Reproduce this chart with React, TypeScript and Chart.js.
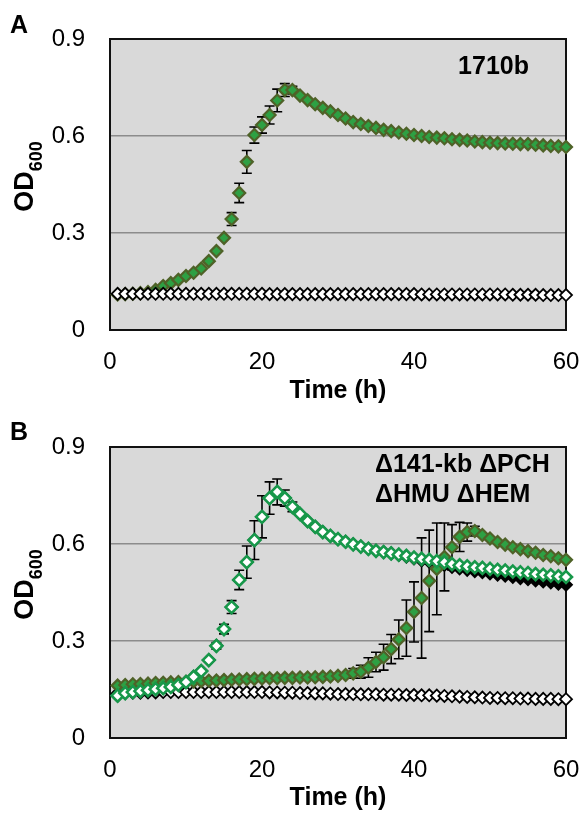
import React, { useEffect, useRef } from 'react';
import { Chart, registerables } from 'chart.js';

Chart.register(...registerables);

const FONT = '"Liberation Sans", Arial, Helvetica, sans-serif';

// ---------- data ----------
const timeHours = [
  1, 2, 3, 4, 5, 6, 7, 8, 9, 10,
  11, 12, 13, 14, 15, 16, 17, 18, 19, 20,
  21, 22, 23, 24, 25, 26, 27, 28, 29, 30,
  31, 32, 33, 34, 35, 36, 37, 38, 39, 40,
  41, 42, 43, 44, 45, 46, 47, 48, 49, 50,
  51, 52, 53, 54, 55, 56, 57, 58, 59, 60,
];

const xTickValues = [0, 20, 40, 60];
const yTickValues = [0, 0.3, 0.6, 0.9];
const yTickLabels = ['0', '0.3', '0.6', '0.9'];

// Panel A: strain 1710b
const a1710bOD = [
  0.110, 0.111, 0.112, 0.114, 0.117, 0.124, 0.136, 0.145, 0.155, 0.167,
  0.177, 0.190, 0.213, 0.244, 0.285, 0.343, 0.424, 0.520, 0.603, 0.634,
  0.665, 0.710, 0.742, 0.742, 0.725, 0.711, 0.698, 0.687, 0.676, 0.665,
  0.654, 0.643, 0.637, 0.631, 0.625, 0.619, 0.615, 0.611, 0.607, 0.603,
  0.600, 0.597, 0.595, 0.593, 0.590, 0.588, 0.586, 0.583, 0.581, 0.579,
  0.578, 0.577, 0.576, 0.575, 0.575, 0.573, 0.571, 0.569, 0.568, 0.566,
];
const a1710bErrTimes = [16, 17, 18, 19, 20, 21, 22, 23, 24];
const a1710bErrValues = [0.02, 0.03, 0.035, 0.025, 0.025, 0.028, 0.035, 0.02, 0.012];

const aControlOD = [
  0.112, 0.112, 0.112, 0.112, 0.112, 0.112, 0.112, 0.112, 0.112, 0.112,
  0.112, 0.112, 0.112, 0.112, 0.112, 0.112, 0.112, 0.112, 0.112, 0.112,
  0.111, 0.111, 0.111, 0.111, 0.111, 0.111, 0.111, 0.111, 0.111, 0.111,
  0.111, 0.111, 0.111, 0.111, 0.111, 0.111, 0.111, 0.111, 0.111, 0.111,
  0.110, 0.110, 0.110, 0.110, 0.110, 0.110, 0.110, 0.110, 0.110, 0.110,
  0.110, 0.110, 0.109, 0.109, 0.109, 0.109, 0.108, 0.108, 0.108, 0.108,
];

// Panel B: Δ141-kb ΔPCH ΔHMU ΔHEM
const bHollowGreenOD = [
  0.131, 0.139, 0.142, 0.145, 0.148, 0.151, 0.154, 0.158, 0.164, 0.173,
  0.189, 0.207, 0.241, 0.285, 0.337, 0.405, 0.489, 0.544, 0.612, 0.684,
  0.742, 0.761, 0.742, 0.715, 0.693, 0.671, 0.653, 0.637, 0.625, 0.615,
  0.607, 0.599, 0.592, 0.585, 0.579, 0.575, 0.571, 0.567, 0.563, 0.558,
  0.554, 0.551, 0.547, 0.543, 0.538, 0.534, 0.531, 0.528, 0.526, 0.523,
  0.520, 0.518, 0.515, 0.512, 0.510, 0.507, 0.505, 0.503, 0.500, 0.498,
];
const bHollowGreenErrTimes = [14, 15, 16, 17, 18, 19, 20, 21, 22, 23, 24];
const bHollowGreenErrValues = [0.01, 0.015, 0.02, 0.03, 0.05, 0.06, 0.065, 0.05, 0.04, 0.025, 0.015];

const bFilledGreenOD = [
  0.162, 0.164, 0.166, 0.167, 0.168, 0.170, 0.171, 0.172, 0.173, 0.174,
  0.175, 0.176, 0.177, 0.178, 0.179, 0.180, 0.181, 0.182, 0.183, 0.184,
  0.185, 0.185, 0.186, 0.186, 0.187, 0.187, 0.188, 0.189, 0.190, 0.192,
  0.195, 0.200, 0.205, 0.218, 0.235, 0.250, 0.275, 0.305, 0.340, 0.390,
  0.433, 0.486, 0.523, 0.560, 0.590, 0.622, 0.637, 0.640, 0.628, 0.617,
  0.606, 0.598, 0.590, 0.584, 0.578, 0.573, 0.566, 0.562, 0.556, 0.551,
];
const bFilledGreenErrTimes = [32, 33, 34, 35, 36, 37, 38, 39, 40, 41, 42, 43, 44, 45, 46, 47, 48];
const bFilledGreenErrValues = [0.015, 0.02, 0.03, 0.03, 0.04, 0.045, 0.06, 0.087, 0.093, 0.186, 0.157, 0.142, 0.105, 0.07, 0.045, 0.028, 0.015];

const bControlOD = [
  0.138, 0.139, 0.140, 0.140, 0.141, 0.141, 0.142, 0.142, 0.142, 0.142,
  0.142, 0.142, 0.142, 0.142, 0.142, 0.142, 0.142, 0.142, 0.142, 0.142,
  0.141, 0.141, 0.140, 0.140, 0.139, 0.139, 0.138, 0.138, 0.137, 0.136,
  0.136, 0.136, 0.135, 0.135, 0.135, 0.134, 0.134, 0.134, 0.133, 0.133,
  0.132, 0.132, 0.131, 0.130, 0.129, 0.128, 0.127, 0.126, 0.125, 0.124,
  0.124, 0.123, 0.123, 0.122, 0.122, 0.121, 0.121, 0.121, 0.120, 0.120,
];

const bBlackOD = [
  0.131, 0.139, 0.142, 0.145, 0.148, 0.151, 0.154, 0.158, 0.164, 0.173,
  0.189, 0.207, 0.241, 0.285, 0.337, 0.405, 0.489, 0.544, 0.612, 0.684,
  0.742, 0.761, 0.742, 0.715, 0.693, 0.671, 0.653, 0.637, 0.625, 0.615,
  0.607, 0.599, 0.592, 0.585, 0.579, 0.575, 0.571, 0.566, 0.561, 0.555,
  0.549, 0.545, 0.540, 0.535, 0.529, 0.524, 0.520, 0.516, 0.513, 0.509,
  0.505, 0.502, 0.498, 0.494, 0.491, 0.487, 0.484, 0.481, 0.477, 0.474,
];

// ---------- styles ----------
const PLOT_BG = '#d9d9d9';
const GRID_COLOR = '#8c8c8c';
const GREEN_FILL = '#2ea043';
const OLIVE_EDGE = '#4f6228';
const HOLLOW_GREEN = '#17984a';

function toPoints(values: number[]) {
  return timeHours.map((t, i) => ({ x: t, y: values[i] }));
}

function marker(label: string, values: number[], fill: string, edge: string, width: number, err?: { times: number[]; values: number[] }) {
  return {
    label,
    data: toPoints(values),
    showLine: false,
    pointStyle: 'rectRot',
    pointRadius: 6,
    pointHoverRadius: 6,
    pointBackgroundColor: fill,
    pointBorderColor: edge,
    pointBorderWidth: width,
    backgroundColor: fill,
    borderColor: edge,
    clip: false,
    errorBars: err,
  } as any;
}

const panelPlugin = {
  id: 'panel',
  beforeDraw(chart: any) {
    const { ctx, chartArea } = chart;
    ctx.save();
    ctx.fillStyle = PLOT_BG;
    ctx.fillRect(chartArea.left, chartArea.top, chartArea.width, chartArea.height);
    ctx.restore();
  },
  beforeDatasetsDraw(chart: any) {
    const { ctx, chartArea, scales } = chart;
    const xs = scales.x;
    const ys = scales.y;
    ctx.save();
    ctx.strokeStyle = '#111';
    ctx.lineWidth = 2;
    ctx.strokeRect(chartArea.left, chartArea.top, chartArea.width, chartArea.height);
    ctx.strokeStyle = '#000';
    ctx.lineWidth = 1.6;
    chart.data.datasets.forEach((ds: any) => {
      const eb = ds.errorBars;
      if (!eb) return;
      eb.times.forEach((t: number, i: number) => {
        const idx = timeHours.indexOf(t);
        const v = ds.data[idx].y;
        const e = eb.values[i];
        const px = xs.getPixelForValue(t);
        const top = ys.getPixelForValue(v + e);
        const bot = ys.getPixelForValue(v - e);
        ctx.beginPath();
        ctx.moveTo(px, top);
        ctx.lineTo(px, bot);
        ctx.moveTo(px - 5, top);
        ctx.lineTo(px + 5, top);
        ctx.moveTo(px - 5, bot);
        ctx.lineTo(px + 5, bot);
        ctx.stroke();
      });
    });
    ctx.restore();
  },
  afterDraw(chart: any, _args: any, opts: any) {
    const { ctx, chartArea } = chart;
    ctx.save();
    ctx.fillStyle = '#000';
    ctx.textBaseline = 'alphabetic';
    // panel letter
    ctx.font = `bold 25px ${FONT}`;
    ctx.textAlign = 'left';
    ctx.fillText(opts.letter, 10, 33);
    // annotation
    (opts.notes || []).forEach((n: any) => {
      ctx.font = `bold 25px ${FONT}`;
      ctx.textAlign = n.align;
      ctx.fillText(n.text, n.x, chartArea.top + n.dy);
    });
    // y title OD600 with subscript
    const cy = (chartArea.top + chartArea.bottom) / 2 - 8;
    ctx.translate(33, cy);
    ctx.rotate(-Math.PI / 2);
    ctx.textAlign = 'left';
    ctx.font = `bold 27px ${FONT}`;
    const w1 = ctx.measureText('OD').width;
    ctx.font = `bold 18px ${FONT}`;
    const w2 = ctx.measureText('600').width;
    const start = -(w1 + w2) / 2;
    ctx.font = `bold 27px ${FONT}`;
    ctx.fillText('OD', start, 0);
    ctx.font = `bold 18px ${FONT}`;
    ctx.fillText('600', start + w1, 9);
    ctx.restore();
  },
};

function makeConfig(datasets: any[], topPad: number, xHeight: number, letter: string, notes: any[]) {
  return {
    type: 'scatter',
    data: { datasets },
    plugins: [panelPlugin],
    options: {
      animation: false,
      responsive: false,
      devicePixelRatio: 1,
      layout: { padding: { top: topPad, right: 15, left: 0, bottom: 0 } },
      plugins: {
        legend: { display: false },
        tooltip: { enabled: false },
        panel: { letter, notes },
      },
      scales: {
        x: {
          type: 'linear',
          min: 0,
          max: 60,
          afterBuildTicks: (s: any) => { s.ticks = xTickValues.map((v) => ({ value: v })); },
          afterFit: (s: any) => {
            s.height = xHeight;
            s.paddingLeft = 0;
            s.paddingRight = 0;
          },
          grid: { display: false, drawTicks: false },
          border: { display: false },
          ticks: {
            color: '#000',
            font: { family: FONT, size: 24 },
            padding: 18,
            maxRotation: 0,
            callback: (v: number) => String(v),
          },
          title: {
            display: true,
            text: 'Time (h)',
            color: '#000',
            font: { family: FONT, size: 25, weight: 'bold' },
            padding: { top: 0, bottom: 1 },
          },
        },
        y: {
          type: 'linear',
          min: 0,
          max: 0.9,
          afterBuildTicks: (s: any) => { s.ticks = yTickValues.map((v) => ({ value: v })); },
          afterFit: (s: any) => {
            s.width = 110;
            s.paddingTop = 0;
            s.paddingBottom = 0;
          },
          grid: {
            drawTicks: false,
            lineWidth: 1.5,
            color: (c: any) => {
              const v = c.tick ? c.tick.value : 0;
              return v > 0.01 && v < 0.89 ? GRID_COLOR : 'rgba(0,0,0,0)';
            },
          },
          border: { display: false },
          ticks: {
            color: '#000',
            font: { family: FONT, size: 24 },
            padding: 25,
            callback: (v: number) => {
              const i = yTickValues.findIndex((t) => Math.abs(t - v) < 1e-6);
              return i >= 0 ? yTickLabels[i] : '';
            },
          },
        },
      },
    },
  } as any;
}

function Panel({ top, height, config }: { top: number; height: number; config: () => any }) {
  const ref = useRef<HTMLCanvasElement>(null);
  useEffect(() => {
    if (!ref.current) return;
    const chart = new Chart(ref.current, config());
    return () => chart.destroy();
  }, []);
  return (
    <div style={{ position: 'absolute', left: 0, top, width: 581, height }}>
      <canvas ref={ref} width={581} height={height} style={{ display: 'block', width: 581, height }} />
    </div>
  );
}

export default function App() {
  const configA = () =>
    makeConfig(
      [
        marker('Control', aControlOD, '#ffffff', '#000000', 1.8),
        marker('1710b', a1710bOD, GREEN_FILL, OLIVE_EDGE, 2.2, { times: a1710bErrTimes, values: a1710bErrValues }),
      ],
      39,
      77,
      'A',
      [{ text: '1710b', x: 529, dy: 35, align: 'right' }]
    );
  const configB = () =>
    makeConfig(
      [
        marker('Hollow', bHollowGreenOD, '#ffffff', HOLLOW_GREEN, 2.6, { times: bHollowGreenErrTimes, values: bHollowGreenErrValues }),
        marker('Filled', bFilledGreenOD, GREEN_FILL, OLIVE_EDGE, 2.2, { times: bFilledGreenErrTimes, values: bFilledGreenErrValues }),
        marker('Control', bControlOD, '#ffffff', '#000000', 1.8),
        marker('Black', bBlackOD, '#000000', '#000000', 1.8),
      ],
      40,
      76,
      'B',
      [
        { text: 'Δ141-kb ΔPCH', x: 375, dy: 25, align: 'left' },
        { text: 'ΔHMU ΔHEM', x: 375, dy: 55, align: 'left' },
      ]
    );
  return (
    <div style={{ position: 'absolute', left: 0, top: 0, width: 581, height: 814, background: '#fff' }}>
      <Panel top={0} height={407} config={configA} />
      <Panel top={407} height={407} config={configB} />
    </div>
  );
}
